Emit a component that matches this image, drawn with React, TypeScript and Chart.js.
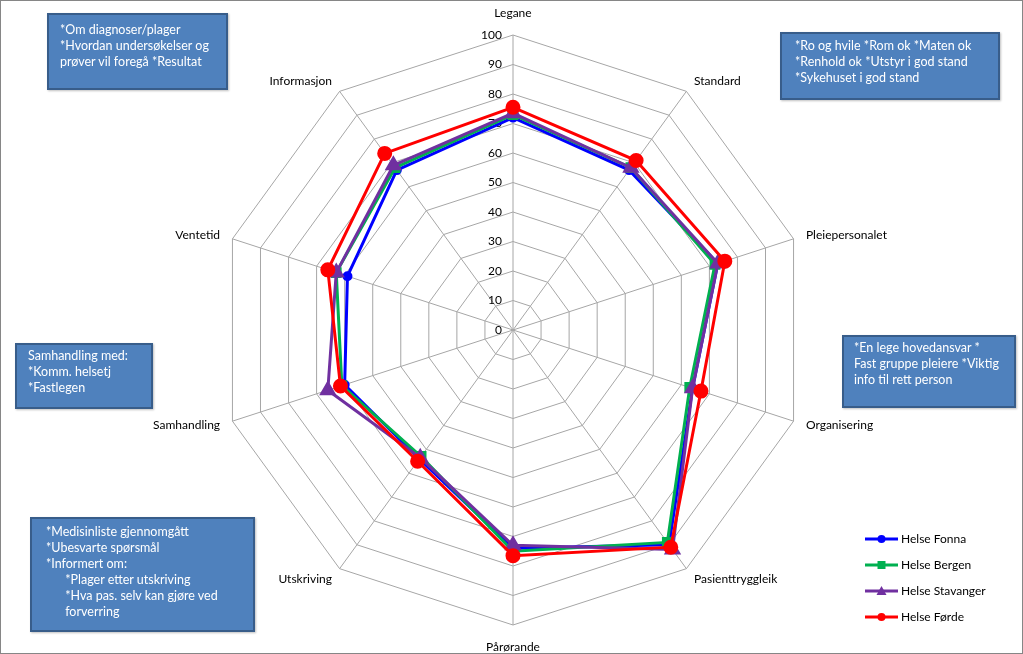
import React, { useEffect, useRef } from 'react';
import { Chart, registerables } from 'chart.js';

Chart.register(...registerables);

const categories = ['Legane', 'Standard', 'Pleiepersonalet', 'Organisering', 'Pasienttryggleik', 'Pårørande', 'Utskriving', 'Samhandling', 'Ventetid', 'Informasjon'];
const seriesNames = ['Helse Fonna', 'Helse Bergen', 'Helse Stavanger', 'Helse Førde'];
const fonna = [72, 67, 73, 64, 90, 74, 54, 60, 59, 67];
const bergen = [73, 68, 72, 63, 89, 75, 53, 61, 63, 68];
const stavanger = [73.5, 68, 73, 64, 92, 73, 53.5, 66, 63, 69];
const forde = [75.5, 71, 75.5, 67, 91, 76.5, 55, 61.5, 66, 74];
const tickValues = [0, 10, 20, 30, 40, 50, 60, 70, 80, 90, 100];

const colors = ['#0000FF', '#00B050', '#7030A0', '#FF0000'];
const pointStyles = ['circle', 'rect', 'triangle', 'circle'];
const pointRadii = [3.5, 5.5, 7, 6];

const noteBoxes = [
  { left: 47, top: 13, width: 181, height: 77, padTop: 7, padLeft: 11, text: '*Om diagnoser/plager\n*Hvordan undersøkelser og\nprøver vil foregå *Resultat' },
  { left: 780, top: 32, width: 220, height: 68, padTop: 4, padLeft: 13, text: '*Ro og hvile *Rom ok *Maten ok\n*Renhold ok *Utstyr i god stand\n*Sykehuset i god stand' },
  { left: 842, top: 335, width: 174, height: 73, padTop: 3, padLeft: 10, text: '*En lege hovedansvar *\nFast gruppe pleiere *Viktig\ninfo til rett person' },
  { left: 15, top: 343, width: 138, height: 66, padTop: 3, padLeft: 11, text: 'Samhandling med:\n*Komm. helsetj\n*Fastlegen' },
  { left: 30, top: 517, width: 225, height: 115, padTop: 5, padLeft: 14, text: '*Medisinliste gjennomgått\n*Ubesvarte spørsmål\n*Informert om:\n      *Plager etter utskriving\n      *Hva pas. selv kan gjøre ved\n      forverring' },
];

const FONT = '12px Lato';

const labelPlugin = {
  id: 'customLabels',
  beforeDatasetsDraw(chart: any) {
    const scale = chart.scales.r;
    const ctx = chart.ctx;
    ctx.save();
    ctx.font = FONT;
    ctx.fillStyle = '#000000';
    ctx.textAlign = 'right';
    ctx.textBaseline = 'middle';
    tickValues.forEach((v) => {
      const d = scale.getDistanceFromCenterForValue(v);
      ctx.fillText(String(v), scale.xCenter - 11, scale.yCenter - d);
    });
    ctx.restore();
  },
  afterDraw(chart: any) {
    const scale = chart.scales.r;
    const ctx = chart.ctx;
    ctx.save();
    ctx.font = FONT;
    ctx.fillStyle = '#000000';
    const r = scale.drawingArea;
    categories.forEach((label, i) => {
      const a = scale.getIndexAngle(i);
      const s = Math.sin(a);
      const c = Math.cos(a);
      let align: CanvasTextAlign = 'center';
      if (s > 0.01) align = 'left';
      else if (s < -0.01) align = 'right';
      const d = align === 'center' ? r + 22 : r + 13;
      ctx.textAlign = align;
      ctx.textBaseline = 'middle';
      ctx.fillText(label, scale.xCenter + s * d, scale.yCenter - c * d);
    });
    // legend
    const lx0 = 865;
    const lx1 = 898;
    const ys = [539, 565, 591, 617];
    seriesNames.forEach((name, i) => {
      const y = ys[i];
      ctx.strokeStyle = colors[i];
      ctx.fillStyle = colors[i];
      ctx.lineWidth = 3;
      ctx.beginPath();
      ctx.moveTo(lx0, y);
      ctx.lineTo(lx1, y);
      ctx.stroke();
      const mx = (lx0 + lx1) / 2;
      ctx.beginPath();
      if (pointStyles[i] === 'circle') {
        ctx.arc(mx, y, 4, 0, Math.PI * 2);
      } else if (pointStyles[i] === 'rect') {
        ctx.rect(mx - 4, y - 4, 8, 8);
      } else {
        ctx.moveTo(mx, y - 5);
        ctx.lineTo(mx + 5, y + 4);
        ctx.lineTo(mx - 5, y + 4);
        ctx.closePath();
      }
      ctx.fill();
      ctx.fillStyle = '#000000';
      ctx.textAlign = 'left';
      ctx.textBaseline = 'middle';
      ctx.fillText(name, lx1 + 3, y);
    });
    ctx.restore();
  },
};

export default function App() {
  const canvasRef = useRef<HTMLCanvasElement | null>(null);

  useEffect(() => {
    const canvas = canvasRef.current;
    if (!canvas) return;
    const seriesData = [fonna, bergen, stavanger, forde];
    const chart = new Chart(canvas, {
      type: 'radar',
      data: {
        labels: categories,
        datasets: seriesNames.map((name, i) => ({
          label: name,
          data: seriesData[i],
          borderColor: colors[i],
          backgroundColor: colors[i],
          pointBackgroundColor: colors[i],
          pointBorderColor: colors[i],
          pointStyle: pointStyles[i] as any,
          pointRadius: pointRadii[i],
          borderWidth: 3,
          fill: false,
          tension: 0,
          order: 3 - i,
        })),
      },
      options: {
        responsive: false,
        animation: false,
        devicePixelRatio: 1,
        layout: { padding: { top: 35, bottom: 29, left: 3, right: 0 } },
        plugins: {
          legend: { display: false },
          tooltip: { enabled: false },
        },
        scales: {
          r: {
            min: 0,
            max: 100,
            ticks: { stepSize: 10, display: false },
            pointLabels: { display: false },
            grid: { color: '#A6A6A6', lineWidth: 1 },
            angleLines: { color: '#A6A6A6', lineWidth: 1 },
          },
        },
      },
      plugins: [labelPlugin],
    });
    return () => chart.destroy();
  }, []);

  return (
    <div style={{ position: 'absolute', left: 0, top: 0, width: 1023, height: 654, background: '#ffffff', overflow: 'hidden' }}>
      <canvas ref={canvasRef} width={1023} height={654} style={{ position: 'absolute', left: 0, top: 0, width: 1023, height: 654 }} />
      {noteBoxes.map((b, i) => (
        <div
          key={i}
          style={{
            position: 'absolute',
            left: b.left,
            top: b.top,
            width: b.width,
            height: b.height,
            boxSizing: 'border-box',
            background: '#4F81BD',
            border: '2px solid #385D8A',
            color: '#ffffff',
            font: '12.5px Lato',
            lineHeight: '16px',
            paddingTop: b.padTop,
            paddingLeft: b.padLeft,
            whiteSpace: 'pre',
            boxShadow: '1px 1px 2px rgba(0,0,0,0.25)',
          }}
        >
          {b.text}
        </div>
      ))}
      <div style={{ position: 'absolute', left: 0, top: 0, width: 1023, height: 654, boxSizing: 'border-box', border: '1px solid #868686', pointerEvents: 'none' }} />
    </div>
  );
}
